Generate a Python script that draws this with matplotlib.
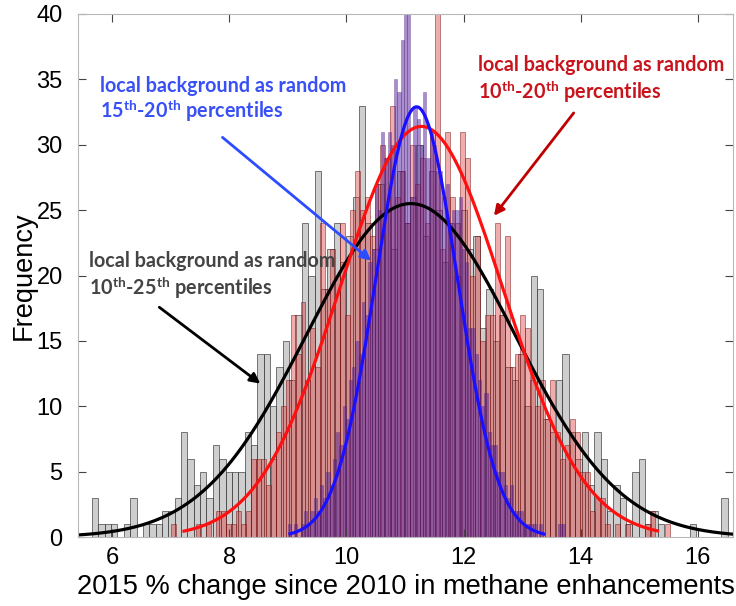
import numpy as np
import matplotlib
matplotlib.use('Agg')
import matplotlib.pyplot as plt

plt.rcParams['font.family'] = ['Liberation Sans', 'DejaVu Sans']
plt.rcParams['mathtext.fontset'] = 'custom'
plt.rcParams['mathtext.rm'] = 'Lato'
plt.rcParams['mathtext.bf'] = 'Lato:bold'

## data
# 10th-25th percentiles (gray bars)
gray_start = 5.66
gray_width = 0.1085
gray_counts = [3, 1, 1, 1, 0, 1, 3, 0, 1, 1,
               1, 2, 2, 3, 8, 6, 4, 5, 3, 7,
               6, 5, 5, 5, 8, 7, 14, 14, 10, 13,
               15, 12, 17, 24, 20, 28, 19, 22, 24, 21,
               23, 26, 33, 24, 22, 27, 25, 22, 28, 24,
               26, 30, 23, 28, 25, 21, 24, 20, 25, 22,
               23, 16, 19, 15, 17, 13, 12, 14, 10, 20,
               19, 9, 8, 12, 14, 8, 6, 8, 4, 8,
               6, 2, 4, 3, 1, 5, 6, 1, 2, 1,
               0, 0, 0, 0, 1, 0, 0, 0, 0, 3]

# 10th-20th percentiles (red bars)
red_start = 7.0
red_width = 0.0853
red_counts = [1, 0, 0, 0, 0, 1, 0, 1, 0, 2,
              2, 1, 1, 2, 1, 2, 6, 6, 6, 4,
              6, 8, 10, 12, 17, 14, 18, 12, 16, 13,
              24, 19, 22, 20, 24, 17, 25, 28, 25, 26,
              23, 27, 30, 29, 33, 26, 28, 24, 30, 27,
              29, 24, 31, 42, 22, 31, 26, 24, 31, 29,
              20, 23, 15, 17, 17, 24, 17, 23, 13, 14,
              17, 16, 12, 10, 12, 9, 12, 8, 6, 7,
              9, 8, 5, 5, 2, 3, 3, 1, 0, 1,
              0, 1, 0, 0, 0, 1, 2, 0, 0, 1]

# 15th-20th percentiles (blue bars)
blue_start = 9.0
blue_width = 0.055
blue_counts = [1, 0, 1, 0, 1, 2, 1, 2, 3, 2,
               4, 3, 5, 4, 6, 8, 7, 10, 9, 12,
               13, 15, 14, 18, 17, 21, 22, 27, 25, 31,
               29, 31, 30, 35, 34, 38, 42, 44, 26, 33,
               32, 30, 34, 29, 31, 30, 28, 28, 26, 27,
               24, 25, 25, 26, 22, 21, 16, 16, 14, 12,
               10, 11, 8, 7, 7, 5, 5, 4, 3, 4,
               2, 2, 2, 1, 1, 1, 1, 0, 1, 0,
               0, 0, 0, 0, 1, 1]

# normal fits: mean, sigma, peak height, x from, x to
fit_black = [11.1, 1.78, 25.5, 5.42, 16.6]
fit_red = [11.28, 1.39, 31.4, 7.23, 15.31]
fit_blue = [11.2, 0.69, 32.9, 9.04, 13.37]

label_top = 'local background as random'
label_blue = '15$^{\\mathbf{th}}$-20$^{\\mathbf{th}}$ percentiles'
label_red = '10$^{\\mathbf{th}}$-20$^{\\mathbf{th}}$ percentiles'
label_gray = '10$^{\\mathbf{th}}$-25$^{\\mathbf{th}}$ percentiles'


fig = plt.figure(figsize=(7.36, 6.06), dpi=100)
ax = fig.add_axes([78 / 736, 1 - 537 / 606, 655 / 736, 523 / 606])


def draw_hist(start, width, counts, face, edge, lw):
    counts = np.array(counts)
    edges = start + width * np.arange(len(counts))
    ax.bar(edges, counts, width=width, align='edge', facecolor=face,
           edgecolor=edge, linewidth=lw)


draw_hist(gray_start, gray_width, gray_counts, (0.55, 0.55, 0.55, 0.42), (0.25, 0.25, 0.25, 0.7), 0.7)
draw_hist(red_start, red_width, red_counts, (0.85, 0.2, 0.2, 0.4), (0.45, 0.05, 0.05, 0.55), 0.6)
draw_hist(blue_start, blue_width, blue_counts, (0.32, 0.12, 0.62, 0.5), (0.3, 0.1, 0.4, 0.45), 0.45)


def draw_fit(fit, color):
    mu, sd, peak, x0, x1 = fit
    xs = np.linspace(x0, x1, 300)
    ax.plot(xs, peak * np.exp(-(xs - mu) ** 2 / (2 * sd ** 2)), color=color, lw=2.3)


draw_fit(fit_black, 'black')
draw_fit(fit_red, '#ff1010')
draw_fit(fit_blue, '#1a10ff')

ax.set_xlim(5.42, 16.6)
ax.set_ylim(0, 40)
ax.set_xticks([6, 8, 10, 12, 14, 16])
ax.set_yticks(range(0, 41, 5))
ax.tick_params(direction='in', length=6, top=True, right=True, labelsize=17,
               color='#444444', width=0.8)
ax.tick_params(axis='x', pad=7)
ax.tick_params(axis='y', pad=11)
for sp in ax.spines.values():
    sp.set_color('#b8b8b8')
ax.set_xlabel('2015 % change since 2010 in methane enhancements', fontsize=19.6, labelpad=4)
ax.set_ylabel('Frequency', fontsize=19.6, labelpad=0)

# annotations
tk = dict(fontsize=14.2, fontweight='bold', family='Lato', va='center', ha='left')
ax.text(5.80, 34.5, label_top, color='#3850f5', **tk)
ax.text(5.80, 32.6, label_blue, color='#3850f5', **tk)
ax.text(12.24, 36.1, label_top, color='#c8141c', **tk)
ax.text(12.24, 34.1, label_red, color='#c8141c', **tk)
ax.text(5.60, 21.1, label_top, color='#444444', **tk)
ax.text(5.60, 19.1, label_gray, color='#444444', **tk)

ax.annotate('', xy=(10.46, 21.0), xytext=(7.85, 30.7),
            arrowprops=dict(arrowstyle='-|>', color='#2c4cff', lw=2, mutation_scale=15))
ax.annotate('', xy=(12.49, 24.4), xytext=(13.91, 32.6),
            arrowprops=dict(arrowstyle='-|>', color='#c00000', lw=2, mutation_scale=15))
ax.annotate('', xy=(8.57, 11.6), xytext=(6.77, 17.7),
            arrowprops=dict(arrowstyle='-|>', color='black', lw=2, mutation_scale=15))

fig.savefig('out.png', dpi=100)
